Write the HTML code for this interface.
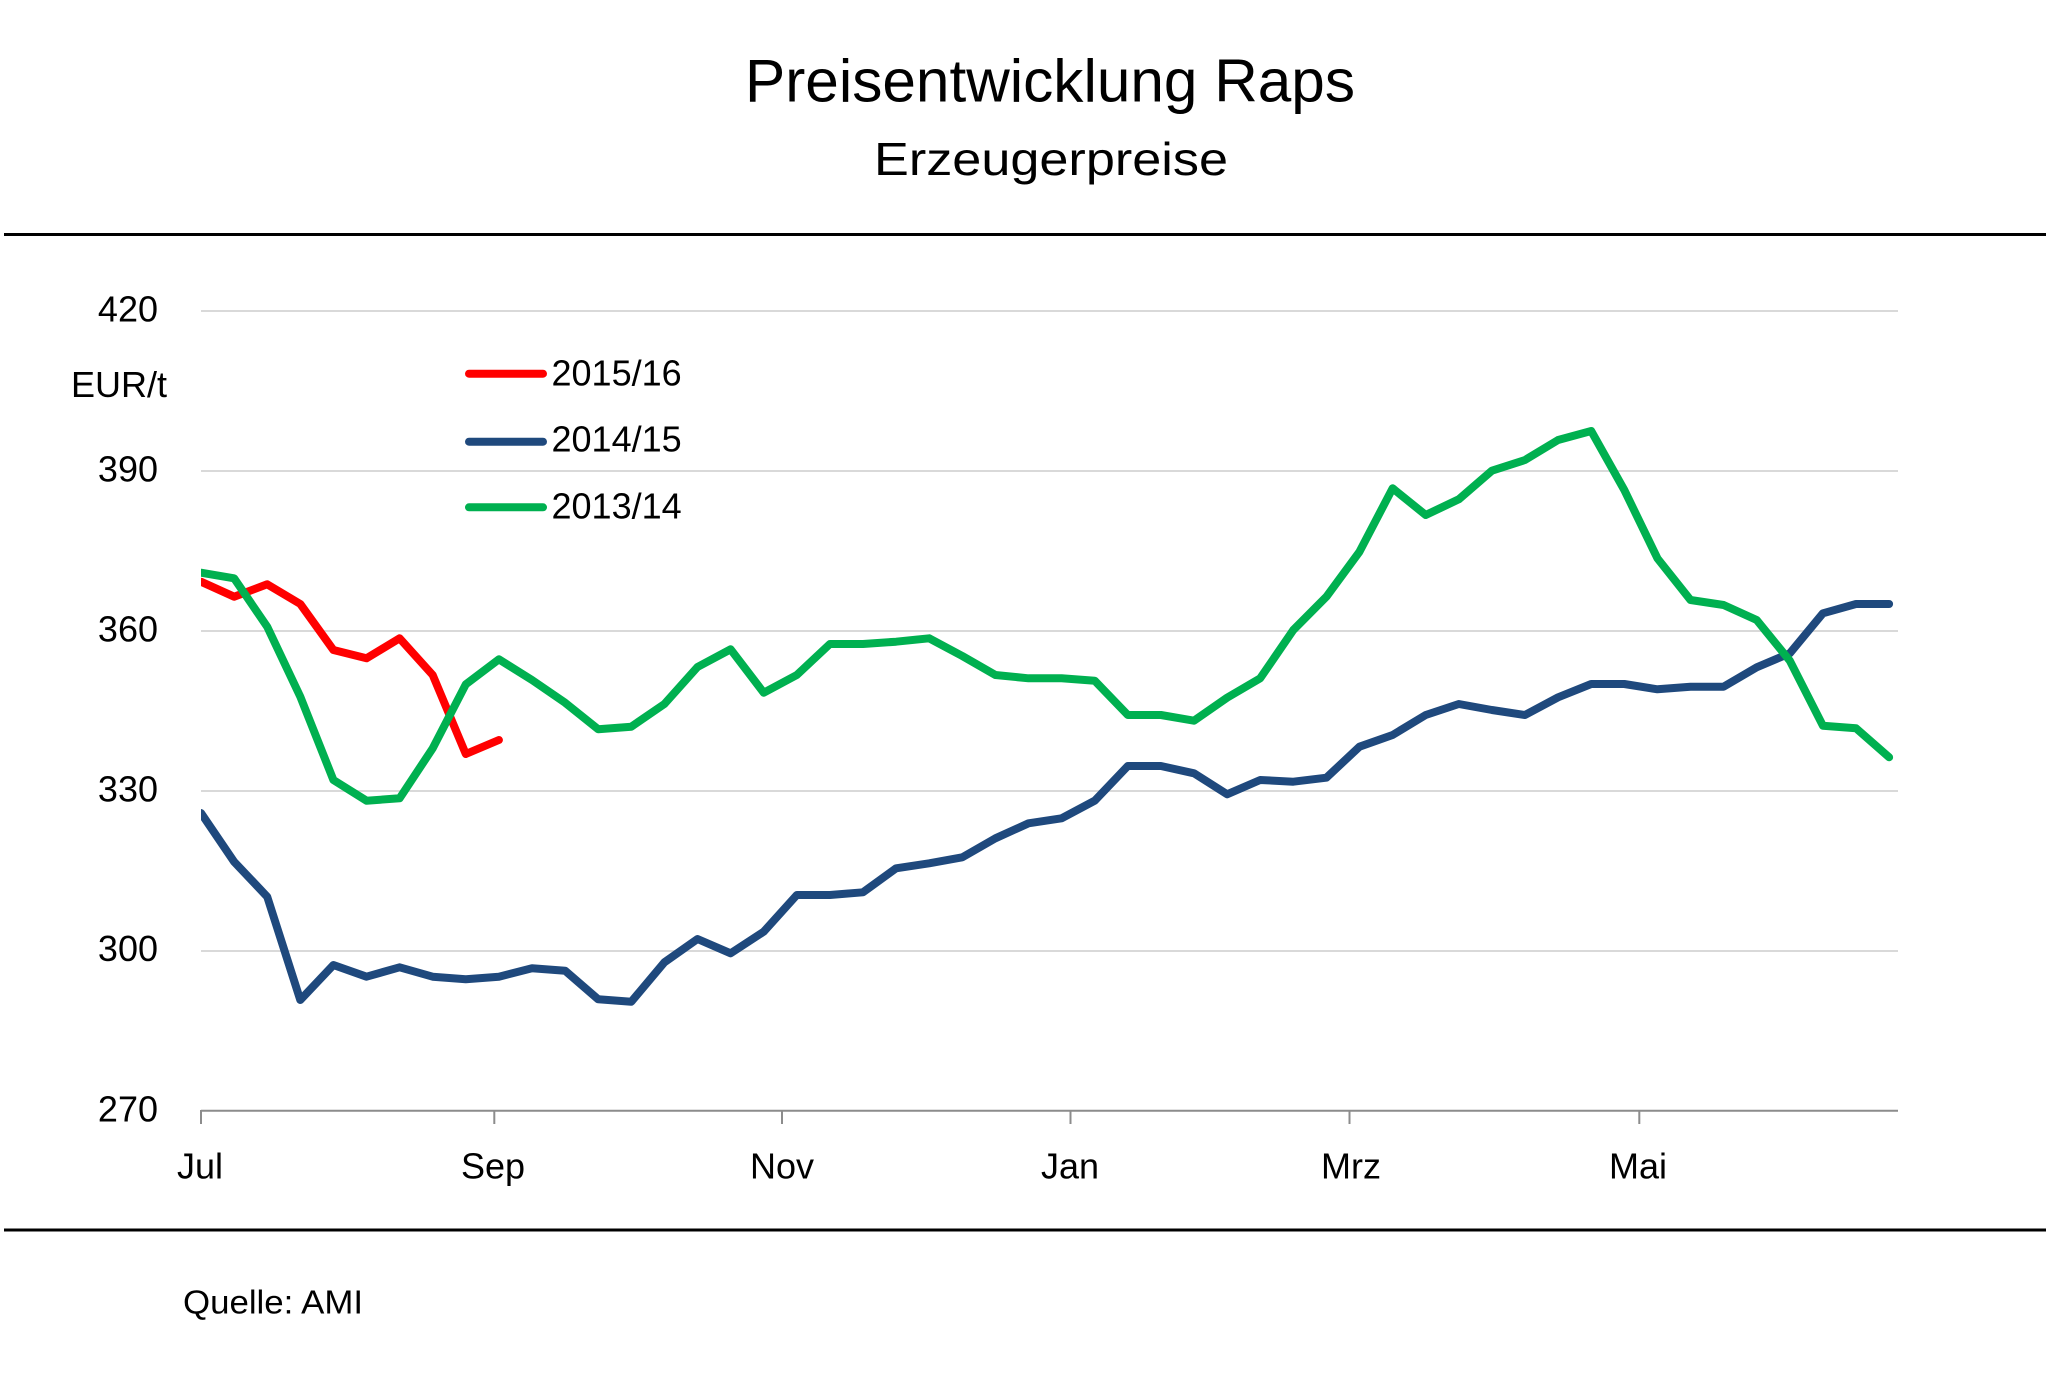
<!DOCTYPE html>
<html>
<head>
<meta charset="utf-8">
<style>
html,body{margin:0;padding:0;background:#fff;}
svg{display:block;}
text{font-family:"Liberation Sans",Arial,sans-serif;fill:#000;}
</style>
</head>
<body>
<svg width="2048" height="1400" viewBox="0 0 2048 1400" xmlns="http://www.w3.org/2000/svg">
<rect x="0" y="0" width="2048" height="1400" fill="#ffffff"/>
<!-- Titles -->
<text x="1050" y="101.5" font-size="60" text-anchor="middle" textLength="610" lengthAdjust="spacingAndGlyphs">Preisentwicklung Raps</text>
<text x="1051" y="175" font-size="46" text-anchor="middle" textLength="354" lengthAdjust="spacingAndGlyphs">Erzeugerpreise</text>
<!-- top & bottom rules -->
<rect x="4" y="233" width="2042" height="3" fill="#000"/>
<rect x="4" y="1228.5" width="2042" height="3" fill="#000"/>
<!-- gridlines -->
<g stroke="#d9d9d9" stroke-width="2">
<line x1="201" y1="311" x2="1898" y2="311"/>
<line x1="201" y1="471" x2="1898" y2="471"/>
<line x1="201" y1="631" x2="1898" y2="631"/>
<line x1="201" y1="791" x2="1898" y2="791"/>
<line x1="201" y1="951" x2="1898" y2="951"/>
</g>
<!-- x axis -->
<g stroke="#8c8c8c" stroke-width="2">
<line x1="201" y1="1110.7" x2="1898" y2="1110.7"/>
<line x1="201" y1="1110" x2="201" y2="1124"/>
<line x1="494.3" y1="1110" x2="494.3" y2="1124"/>
<line x1="782" y1="1110" x2="782" y2="1124"/>
<line x1="1070.5" y1="1110" x2="1070.5" y2="1124"/>
<line x1="1349.5" y1="1110" x2="1349.5" y2="1124"/>
<line x1="1639.3" y1="1110" x2="1639.3" y2="1124"/>
</g>
<!-- y labels -->
<g font-size="36" text-anchor="end">
<text x="158" y="321.5">420</text>
<text x="158" y="481.5">390</text>
<text x="158" y="641.5">360</text>
<text x="158" y="801.5">330</text>
<text x="158" y="961">300</text>
<text x="158" y="1121.5">270</text>
</g>
<text x="71" y="397" font-size="36">EUR/t</text>
<!-- x labels -->
<g font-size="36" text-anchor="middle">
<text x="200" y="1178.3">Jul</text>
<text x="493" y="1178.3">Sep</text>
<text x="782" y="1178.3">Nov</text>
<text x="1070" y="1178.3">Jan</text>
<text x="1351" y="1178.3">Mrz</text>
<text x="1638" y="1178.3">Mai</text>
</g>
<text x="183" y="1313.3" font-size="33" textLength="180" lengthAdjust="spacingAndGlyphs">Quelle: AMI</text>
<!-- legend -->
<g stroke-width="8" stroke-linecap="round">
<line x1="469" y1="373.7" x2="543" y2="373.7" stroke="#ff0000"/>
<line x1="469" y1="441.7" x2="543" y2="441.7" stroke="#1f497d"/>
<line x1="469" y1="507.3" x2="543" y2="507.3" stroke="#00b050"/>
</g>
<g font-size="36">
<text x="551.5" y="385.7">2015/16</text>
<text x="551.5" y="451.7">2014/15</text>
<text x="551.5" y="518.3">2013/14</text>
</g>
<defs>
<clipPath id="pc"><rect x="201" y="250" width="1847" height="900"/></clipPath>
</defs>
<g clip-path="url(#pc)" fill="none" stroke-width="8" stroke-linejoin="round" stroke-linecap="round">
<!-- 2015/16 red -->
<polyline stroke="#ff0000" points="201,581.7 234.1,596.7 267.2,584.3 300.3,604 333.4,650 366.5,658.3 399.6,638.3 432.7,675 465.8,754 498.9,740"/>
<!-- 2014/15 blue -->
<polyline stroke="#1f497d" points="201,813 234.1,861.7 267.2,896.7 300.3,1000 333.4,965 366.5,976.7 399.6,967.3 432.7,976.7 465.8,979.3 498.9,976.7 532,968.3 565.1,970.7 598.2,999.3 631.3,1001.7 664.4,962.3 697.5,939 730.6,953.3 763.7,931.7 796.8,895 829.9,895 863,892.3 896.1,868.3 929.2,863.3 962.3,857.3 995.4,838.3 1028.5,823.3 1061.6,818.3 1094.7,800.7 1127.8,766 1160.9,766 1194,773.3 1227.1,794.3 1260.2,780 1293.3,781.7 1326.4,777.7 1359.5,746.7 1392.6,735 1425.7,715 1458.8,704 1491.9,710 1525,715 1558.1,697.3 1591.2,684 1624.3,684 1657.4,689.3 1690.5,686.7 1723.6,686.7 1756.7,667.3 1789.8,653.3 1822.9,613.3 1856,604 1889.1,604"/>
<!-- 2013/14 green -->
<polyline stroke="#00b050" points="201,572.7 234.1,578.3 267.2,626.7 300.3,696.7 333.4,780 366.5,800.7 399.6,798.3 432.7,748.3 465.8,684.3 498.9,659.3 532,680 565.1,702.7 598.2,729.3 631.3,726.7 664.4,704 697.5,667 730.6,649.3 763.7,692.7 796.8,675 829.9,644 863,644 896.1,641.7 929.2,638.3 962.3,656 995.4,675 1028.5,678.3 1061.6,678.3 1094.7,680.7 1127.8,715 1160.9,715 1194,720.7 1227.1,697.7 1260.2,678.3 1293.3,630 1326.4,596.7 1359.5,551.7 1392.6,488.3 1425.7,515 1458.8,499.3 1491.9,470.7 1525,460 1558.1,440 1591.2,431 1624.3,490 1657.4,558.3 1690.5,600 1723.6,605 1756.7,620 1789.8,660.7 1822.9,725.7 1856,728.3 1889.1,757.3"/>
</g>
</svg>
</body>
</html>
